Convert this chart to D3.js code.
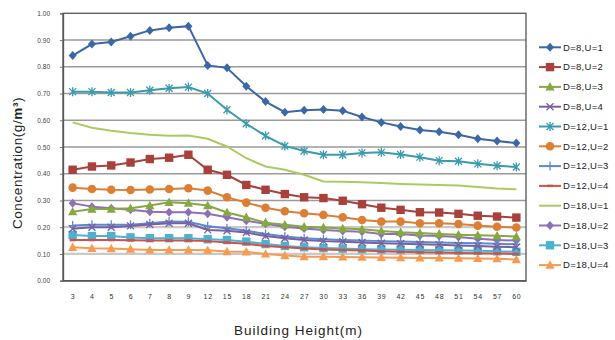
<!DOCTYPE html>
<html>
<head>
<meta charset="utf-8">
<script src="https://cdn.jsdelivr.net/npm/d3@7"></script>
<style>
  body { margin: 0; background: #fff; }
  svg { font-family: "Liberation Sans", Arial, sans-serif; }
</style>
</head>
<body>
<svg id="chart" width="615" height="340"></svg>
<script>
// Building height categories (m)
const heights = [3, 4, 5, 6, 7, 8, 9, 12, 15, 18, 21, 24, 27, 30, 33, 36, 39, 42, 45, 48, 51, 54, 57, 60];
const yTicks = [0, 0.1, 0.2, 0.3, 0.4, 0.5, 0.6, 0.7, 0.8, 0.9, 1.0];

const seriesNames = ['D=8,U=1', 'D=8,U=2', 'D=8,U=3', 'D=8,U=4', 'D=12,U=1', 'D=12,U=2',
  'D=12,U=3', 'D=12,U=4', 'D=18,U=1', 'D=18,U=2', 'D=18,U=3', 'D=18,U=4'];

const d8u1 = [0.842, 0.885, 0.893, 0.914, 0.936, 0.946, 0.952, 0.805, 0.796, 0.727, 0.670, 0.630,
  0.637, 0.640, 0.636, 0.612, 0.592, 0.577, 0.564, 0.557, 0.546, 0.531, 0.522, 0.515];
const d8u2 = [0.415, 0.427, 0.431, 0.442, 0.455, 0.460, 0.471, 0.415, 0.396, 0.358, 0.340, 0.324,
  0.312, 0.309, 0.299, 0.286, 0.273, 0.265, 0.256, 0.255, 0.250, 0.243, 0.240, 0.236];
const d8u3 = [0.258, 0.268, 0.268, 0.271, 0.281, 0.293, 0.290, 0.281, 0.255, 0.237, 0.217, 0.209,
  0.202, 0.199, 0.195, 0.192, 0.186, 0.181, 0.178, 0.175, 0.172, 0.170, 0.168, 0.165];
const d8u4 = [0.194, 0.200, 0.200, 0.205, 0.210, 0.215, 0.215, 0.190, 0.187, 0.180, 0.167, 0.159,
  0.152, 0.148, 0.146, 0.143, 0.140, 0.138, 0.136, 0.134, 0.132, 0.130, 0.127, 0.125];
const d12u1 = [0.707, 0.707, 0.704, 0.704, 0.712, 0.720, 0.724, 0.700, 0.639, 0.587, 0.542, 0.504,
  0.485, 0.471, 0.471, 0.478, 0.480, 0.472, 0.462, 0.449, 0.447, 0.437, 0.430, 0.425];
const d12u2 = [0.348, 0.343, 0.340, 0.339, 0.341, 0.343, 0.346, 0.337, 0.312, 0.292, 0.273, 0.260,
  0.252, 0.246, 0.237, 0.227, 0.221, 0.221, 0.215, 0.215, 0.212, 0.206, 0.202, 0.199];
const d12u3 = [0.206, 0.209, 0.209, 0.209, 0.215, 0.221, 0.220, 0.204, 0.196, 0.187, 0.175, 0.165,
  0.159, 0.155, 0.152, 0.150, 0.148, 0.147, 0.145, 0.143, 0.141, 0.140, 0.138, 0.136];
const d12u4 = [0.152, 0.152, 0.152, 0.151, 0.150, 0.150, 0.150, 0.148, 0.143, 0.138, 0.130, 0.125,
  0.120, 0.117, 0.115, 0.113, 0.110, 0.108, 0.106, 0.105, 0.104, 0.103, 0.102, 0.100];
const d18u1 = [0.592, 0.572, 0.561, 0.552, 0.546, 0.542, 0.543, 0.531, 0.502, 0.458, 0.427, 0.415,
  0.396, 0.371, 0.370, 0.368, 0.365, 0.362, 0.360, 0.358, 0.356, 0.350, 0.345, 0.342];
const d18u2 = [0.290, 0.277, 0.271, 0.265, 0.258, 0.256, 0.256, 0.250, 0.237, 0.224, 0.213, 0.202,
  0.195, 0.190, 0.186, 0.183, 0.175, 0.175, 0.169, 0.167, 0.163, 0.157, 0.152, 0.150];
const d18u3 = [0.171, 0.167, 0.167, 0.162, 0.159, 0.159, 0.159, 0.155, 0.152, 0.146, 0.137, 0.130,
  0.125, 0.122, 0.120, 0.118, 0.117, 0.116, 0.115, 0.114, 0.113, 0.112, 0.110, 0.108];
const d18u4 = [0.125, 0.121, 0.120, 0.118, 0.115, 0.115, 0.115, 0.114, 0.109, 0.108, 0.100, 0.094,
  0.090, 0.090, 0.089, 0.088, 0.087, 0.086, 0.085, 0.085, 0.084, 0.083, 0.082, 0.079];

const seriesValues = [d8u1, d8u2, d8u3, d8u4, d12u1, d12u2, d12u3, d12u4, d18u1, d18u2, d18u3, d18u4];

// --- styling (Excel-like) ---
const colors = ['#3b67a6', '#a8403c', '#86a842', '#7a5fa0', '#3a9aae', '#dc7f34',
  '#5a8bd0', '#d2504c', '#a8cb62', '#8e6fb8', '#4bb2cf', '#f79a52'];
const markers = ['diamond', 'square', 'triangle', 'x', 'star', 'circle',
  'plus', 'dash', 'none', 'diamond', 'square', 'triangle'];

const margin = { left: 63, right: 89, top: 13.3, bottom: 59.3 };
const W = 615, H = 340;

const svg = d3.select('#chart');

const x = d3.scalePoint()
  .domain(heights)
  .range([margin.left, W - margin.right])
  .padding(0.5);

const y = d3.scaleLinear()
  .domain([0, 1])
  .range([H - margin.bottom, margin.top]);

// gridlines
svg.append('g').selectAll('line')
  .data(yTicks.filter(d => d > 0 && d < 1))
  .join('line')
  .attr('x1', margin.left).attr('x2', W - margin.right)
  .attr('y1', d => y(d)).attr('y2', d => y(d))
  .attr('stroke', d => d <= 0.2 ? '#c9c9c9' : '#9a9a9a')
  .attr('stroke-width', d => d <= 0.2 ? 2.2 : 1.4);

// plot frame
svg.append('rect')
  .attr('x', margin.left).attr('y', margin.top)
  .attr('width', W - margin.right - margin.left)
  .attr('height', H - margin.bottom - margin.top)
  .attr('fill', 'none')
  .attr('stroke', '#555')
  .attr('stroke-width', 1.3);

// y axis
const yAxis = svg.append('g')
  .attr('transform', `translate(${margin.left},0)`)
  .call(d3.axisLeft(y).tickValues(yTicks).tickFormat(d3.format('.2f')).tickSize(3).tickPadding(10));
yAxis.select('.domain').attr('stroke', '#555').attr('stroke-width', 1.3);
yAxis.selectAll('.tick line').attr('stroke', '#777');
yAxis.selectAll('text').attr('font-size', 6.5).attr('fill', '#444');

// x axis
const xAxis = svg.append('g')
  .attr('transform', `translate(0,${H - margin.bottom})`)
  .call(d3.axisBottom(x).tickSize(0).tickPadding(13));
xAxis.select('.domain').attr('stroke', '#555').attr('stroke-width', 1.3);
xAxis.selectAll('text').attr('font-size', 7).attr('fill', '#333').attr('letter-spacing', 0.8);

// titles
svg.append('text')
  .attr('x', (margin.left + W - margin.right) / 2 + 4)
  .attr('y', 335)
  .attr('text-anchor', 'middle')
  .attr('font-size', 13.5)
  .attr('letter-spacing', 1)
  .attr('fill', '#222')
  .text('Building Height(m)');

const yt = svg.append('text')
  .attr('transform', `translate(22,${(margin.top + H - margin.bottom) / 2 + 16}) rotate(-90)`)
  .attr('text-anchor', 'middle')
  .attr('font-size', 13.5)
  .attr('letter-spacing', 0.6)
  .attr('fill', '#222');
yt.append('tspan').text('Concentration(g/');
yt.append('tspan').attr('font-weight', 'bold').text('m³');
yt.append('tspan').text(')');

// marker drawing
function drawMarker(g, type, color) {
  if (type === 'diamond') {
    g.append('path').attr('d', 'M0,-4.5L4,0L0,4.5L-4,0Z').attr('fill', color);
  } else if (type === 'square') {
    g.append('rect').attr('x', -4.2).attr('y', -4.2).attr('width', 8.4).attr('height', 8.4).attr('fill', color);
  } else if (type === 'triangle') {
    g.append('path').attr('d', 'M0,-4.8L4.6,3.6L-4.6,3.6Z').attr('fill', color);
  } else if (type === 'circle') {
    g.append('circle').attr('r', 4.3).attr('fill', color);
  } else if (type === 'x') {
    g.append('path').attr('d', 'M-3.5,-3.5L3.5,3.5M-3.5,3.5L3.5,-3.5').attr('stroke', color).attr('stroke-width', 1.3);
  } else if (type === 'star') {
    g.append('path').attr('d', 'M-3.5,-3.5L3.5,3.5M-3.5,3.5L3.5,-3.5M0,-4.5L0,4.5').attr('stroke', color).attr('stroke-width', 1.3);
  } else if (type === 'plus') {
    g.append('path').attr('d', 'M-4,0L4,0M0,-4.5L0,4.5').attr('stroke', color).attr('stroke-width', 1.3);
  } else if (type === 'dash') {
    g.append('path').attr('d', 'M-3,0L3,0').attr('stroke', color).attr('stroke-width', 2.5);
  }
}

const line = d3.line()
  .x((d, i) => x(heights[i]))
  .y(d => y(d));

// series, drawn last-to-first so D=8,U=1 is on top
const plot = svg.append('g');
d3.range(seriesValues.length).reverse().forEach(s => {
  const g = plot.append('g');
  g.append('path')
    .attr('d', line(seriesValues[s]))
    .attr('fill', 'none')
    .attr('stroke', colors[s])
    .attr('stroke-width', 2);
  seriesValues[s].forEach((v, i) => {
    const m = g.append('g').attr('transform', `translate(${x(heights[i])},${y(v)})`);
    drawMarker(m, markers[s], colors[s]);
  });
});

// legend
const legend = svg.append('g');
seriesNames.forEach((name, s) => {
  const ly = 47.3 + s * 19.8;
  const row = legend.append('g');
  row.append('line')
    .attr('x1', 539).attr('x2', 561)
    .attr('y1', ly).attr('y2', ly)
    .attr('stroke', colors[s]).attr('stroke-width', 2);
  drawMarker(row.append('g').attr('transform', `translate(550,${ly})`), markers[s], colors[s]);
  row.append('text')
    .attr('x', 563).attr('y', ly + 3.2)
    .attr('font-size', 9.5)
    .attr('letter-spacing', 0.3)
    .attr('fill', '#222')
    .text(name);
});
</script>
</body>
</html>
